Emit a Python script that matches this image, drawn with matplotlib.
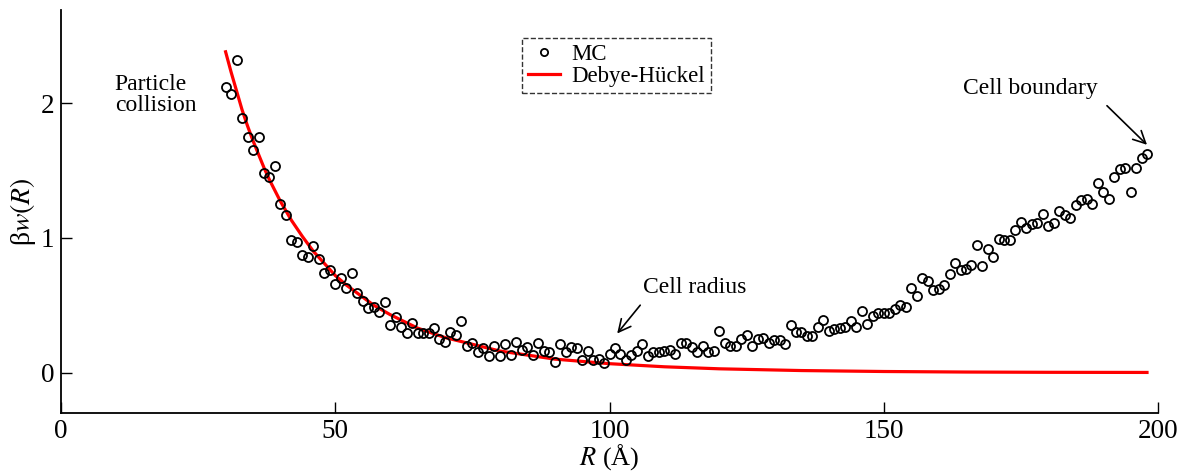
import numpy as np
import matplotlib
matplotlib.use("Agg")
import matplotlib.pyplot as plt

plt.rcParams['font.family'] = ['Liberation Serif', 'DejaVu Serif']
plt.rcParams['mathtext.fontset'] = 'stix'

# MC simulation points, R in Angstrom
r_mc = [30, 31, 32, 33, 34, 35, 36, 37, 38, 39,
        40, 41, 42, 43, 44, 45, 46, 47, 48, 49,
        50, 51, 52, 53, 54, 55, 56, 57, 58, 59,
        60, 61, 62, 63, 64, 65, 66, 67, 68, 69,
        70, 71, 72, 73, 74, 75, 76, 77, 78, 79,
        80, 81, 82, 83, 84, 85, 86, 87, 88, 89,
        90, 91, 92, 93, 94, 95, 96, 97, 98, 99,
        100, 101, 102, 103, 104, 105, 106, 107, 108, 109,
        110, 111, 112, 113, 114, 115, 116, 117, 118, 119,
        120, 121, 122, 123, 124, 125, 126, 127, 128, 129,
        130, 131, 132, 133, 134, 135, 136, 137, 138, 139,
        140, 141, 142, 143, 144, 145, 146, 147, 148, 149,
        150, 151, 152, 153, 154, 155, 156, 157, 158, 159,
        160, 161, 162, 163, 164, 165, 166, 167, 168, 169,
        170, 171, 172, 173, 174, 175, 176, 177, 178, 179,
        180, 181, 182, 183, 184, 185, 186, 187, 188, 189,
        190, 191, 192, 193, 194, 195, 196, 197, 198]
w_mc = [2.12, 2.07, 2.32, 1.89, 1.75, 1.65, 1.75, 1.48, 1.45, 1.53,
        1.25, 1.17, 0.98, 0.97, 0.87, 0.86, 0.94, 0.84, 0.74, 0.76,
        0.66, 0.70, 0.63, 0.74, 0.59, 0.53, 0.48, 0.49, 0.45, 0.52,
        0.35, 0.41, 0.34, 0.29, 0.37, 0.29, 0.29, 0.29, 0.33, 0.25,
        0.23, 0.30, 0.28, 0.38, 0.20, 0.22, 0.15, 0.18, 0.12, 0.20,
        0.12, 0.21, 0.13, 0.23, 0.17, 0.19, 0.13, 0.22, 0.16, 0.15,
        0.08, 0.21, 0.15, 0.19, 0.18, 0.09, 0.16, 0.09, 0.10, 0.07,
        0.14, 0.18, 0.14, 0.09, 0.13, 0.16, 0.21, 0.12, 0.15, 0.15,
        0.16, 0.17, 0.14, 0.22, 0.22, 0.19, 0.15, 0.20, 0.15, 0.16,
        0.31, 0.22, 0.20, 0.20, 0.25, 0.28, 0.20, 0.25, 0.26, 0.22,
        0.24, 0.24, 0.21, 0.35, 0.30, 0.30, 0.27, 0.27, 0.34, 0.39,
        0.31, 0.32, 0.33, 0.34, 0.38, 0.34, 0.46, 0.36, 0.42, 0.44,
        0.44, 0.44, 0.47, 0.50, 0.49, 0.63, 0.57, 0.70, 0.68, 0.61,
        0.62, 0.65, 0.73, 0.81, 0.76, 0.77, 0.80, 0.95, 0.79, 0.92,
        0.86, 0.99, 0.98, 0.98, 1.06, 1.12, 1.07, 1.10, 1.11, 1.18,
        1.09, 1.11, 1.20, 1.17, 1.15, 1.24, 1.28, 1.29, 1.25, 1.41,
        1.34, 1.29, 1.45, 1.51, 1.52, 1.34, 1.52, 1.59, 1.62]

# Debye-Huckel curve
r_dh = [30, 31, 32, 33, 34, 35, 36, 37, 38, 39, 40, 42, 44, 46, 48, 50,
        52, 55, 57, 60, 62, 65, 70, 75, 80, 85, 90, 95, 100, 110, 120,
        135, 150, 165, 180, 198]
w_dh = [2.38, 2.23, 2.09, 1.95, 1.83, 1.72, 1.62, 1.52, 1.43, 1.35, 1.27,
        1.13, 1.01, 0.90, 0.81, 0.72, 0.65, 0.56, 0.50, 0.43, 0.39, 0.33,
        0.26, 0.21, 0.16, 0.13, 0.10, 0.083, 0.066, 0.043, 0.028, 0.015,
        0.008, 0.004, 0.002, 0.001]

fig = plt.figure(figsize=(11.81, 4.75), dpi=100)
ax = fig.add_axes([0.0517, 0.1305, 0.9288, 0.8484])

ax.plot(r_mc, w_mc, 'o', mfc='none', mec='black', ms=6.5, mew=1.3,
        label='MC', zorder=3)
ax.plot(r_dh, w_dh, '-', color='red', lw=2.3, label='Debye-Hückel', zorder=2)

ax.set_xlim(0, 200)
ax.set_ylim(-0.3, 2.69)
ax.set_xticks([0, 50, 100, 150, 200])
ax.set_yticks([0, 1, 2])
ax.spines['top'].set_visible(False)
ax.spines['right'].set_visible(False)
for s in ['left', 'bottom']:
    ax.spines[s].set_linewidth(1.3)
ax.tick_params(direction='in', length=8, width=1, labelsize=19.5)
ax.tick_params(axis='x', pad=4)
ax.tick_params(axis='y', pad=5)

ax.set_xlabel(r'$R$ (Å)', fontsize=19, labelpad=-1)
ax.set_ylabel(r'β$w(R)$', fontsize=20, labelpad=2)

ax.text(9.8, 2.06, 'Particle\ncollision', fontsize=17, ha='left', va='center',
        linespacing=0.95)
ax.text(115.6, 0.63, 'Cell radius', fontsize=17, ha='center', va='center')
ax.annotate('', xy=(101.4, 0.29), xytext=(105.6, 0.50),
            arrowprops=dict(arrowstyle='->', color='black', lw=1.2,
                            shrinkA=0, shrinkB=0, mutation_scale=22))
ax.text(176.8, 2.11, 'Cell boundary', fontsize=17, ha='center', va='center')
ax.annotate('', xy=(198.0, 1.69), xytext=(190.7, 1.98),
            arrowprops=dict(arrowstyle='->', color='black', lw=1.2,
                            shrinkA=0, shrinkB=0, mutation_scale=22))

leg = ax.legend(loc='upper left', bbox_to_anchor=(522 / 1181, 1 - 38 / 475),
                bbox_transform=fig.transFigure, borderaxespad=0,
                fontsize=16.5, frameon=True, fancybox=False, handlelength=1.4,
                handletextpad=0.5, borderpad=0.25, labelspacing=0.05,
                markerscale=0.8)
frame = leg.get_frame()
frame.set_edgecolor('black')
frame.set_linestyle('--')
frame.set_linewidth(1.0)

fig.savefig('out.png', dpi=100)
